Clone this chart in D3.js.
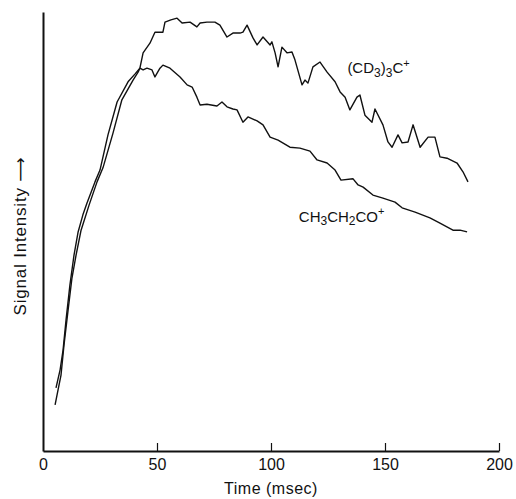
<!DOCTYPE html>
<html lang="en">
<head>
  <meta charset="UTF-8">
  <title>Signal intensity vs time</title>
  <script src="https://d3js.org/d3.v7.min.js"></script>
  <style>
    body { margin: 0; background: #fff; }
    svg { display: block; }
    text { font-family: "Liberation Sans", Arial, sans-serif; fill: #111; }
  </style>
</head>
<body>
  <div id="chart"></div>

  <script>
    // x tick labels (msec)
    const xTicks = [0, 50, 100, 150, 200];

    // (CD3)3C+  [time msec, relative intensity]
    const cd3Series = [
      [5.7, 14.4], [7.5, 18.5], [8.8, 23.0], [10.1, 29.8], [11.8, 37.8], [13.6, 44.6],
      [15.4, 49.9], [17.5, 53.8], [19.3, 56.5], [22.8, 61.3], [25.0, 64.0], [28.5, 72.0],
      [32.5, 79.5], [37.3, 84.1], [40.4, 85.9], [42.5, 87.2], [43.9, 90.7], [46.9, 92.9],
      [49.1, 95.4], [52.6, 95.4], [53.5, 97.7], [56.1, 98.2], [58.8, 98.6], [61.0, 97.5],
      [64.5, 97.7], [67.5, 96.6], [68.9, 97.5], [71.9, 97.7], [75.4, 97.7], [77.6, 97.0],
      [80.7, 94.3], [83.3, 95.2], [86.4, 95.2], [87.7, 95.4], [89.5, 97.0], [92.1, 94.1],
      [93.9, 92.5], [96.5, 94.3], [99.6, 92.5], [100.4, 93.2], [101.8, 90.7], [103.1, 87.5],
      [104.8, 92.0], [107.0, 90.7], [109.2, 90.9], [110.5, 89.1], [113.6, 83.4], [114.9, 84.5],
      [116.2, 83.8], [118.4, 87.5], [121.5, 88.6], [124.6, 86.3], [128.1, 84.1], [130.3, 81.8],
      [132.5, 80.6], [134.6, 77.7], [137.7, 80.6], [139.0, 81.1], [141.2, 76.5], [144.3, 74.9],
      [145.6, 77.9], [149.1, 74.3], [151.3, 70.4], [153.1, 69.2], [155.7, 72.0], [157.5, 70.2],
      [160.1, 70.4], [162.3, 74.3], [165.4, 69.2], [168.9, 71.5], [171.9, 71.5], [174.1, 67.0],
      [177.2, 66.7], [181.6, 65.6], [184.2, 63.6], [186.4, 61.3]
    ];

    // CH3CH2CO+
    const ch3Series = [
      [5.3, 10.5], [6.6, 13.9], [7.9, 17.3], [9.2, 24.1], [11.0, 32.1], [12.7, 39.4],
      [14.5, 44.6], [16.7, 50.3], [20.2, 56.0], [23.7, 61.3], [26.3, 64.5], [30.7, 72.4],
      [34.6, 80.0], [39.5, 84.5], [41.7, 86.3], [42.5, 87.2], [43.9, 86.8], [45.6, 87.2],
      [47.8, 86.8], [49.1, 85.2], [51.3, 87.2], [52.6, 87.9], [55.7, 87.2], [60.1, 85.2],
      [63.2, 83.4], [65.4, 82.9], [67.5, 80.6], [68.9, 78.8], [71.9, 79.0], [76.3, 78.6],
      [78.5, 79.5], [80.7, 78.4], [83.3, 77.9], [85.1, 77.7], [87.7, 74.9], [89.9, 76.1],
      [93.9, 75.2], [96.5, 74.3], [99.6, 71.5], [103.1, 70.8], [108.3, 69.2], [112.7, 69.0],
      [117.1, 68.3], [120.2, 66.3], [124.6, 65.6], [128.1, 64.0], [130.7, 61.7], [136.0, 62.0],
      [138.2, 60.6], [140.4, 60.1], [144.7, 58.3], [149.1, 57.6], [154.4, 56.7], [157.5, 55.4],
      [163.2, 54.4], [169.7, 53.1], [174.1, 51.9], [179.8, 50.3], [182.9, 50.3], [186.0, 49.9]
    ];

    const width = 516, height = 499;
    const margin = { top: 12, right: 17, bottom: 48, left: 43 };

    const svg = d3.select("#chart").append("svg")
      .attr("width", width)
      .attr("height", height);

    const x = d3.scaleLinear().domain([0, 200]).range([margin.left, width - margin.right]);
    const y = d3.scaleLinear().domain([0, 100]).range([height - margin.bottom, margin.top]);

    // x axis, ticks point up into the plot
    const xAxis = svg.append("g")
      .attr("transform", `translate(0, ${height - margin.bottom})`)
      .call(d3.axisBottom(x).tickValues(xTicks).tickSizeInner(-8).tickSizeOuter(0).tickPadding(8));
    xAxis.select(".domain").attr("stroke-width", 2.2).attr("stroke", "#111");
    xAxis.selectAll(".tick line").attr("stroke", "#111").attr("stroke-width", 1.2)
      .filter(d => d === 0).remove();
    xAxis.selectAll(".tick text")
      .style("font-size", "16px")
      .style("font-family", "'Liberation Sans', Arial, sans-serif")
      .attr("fill", "#111");

    // y axis: just the line
    const yAxis = svg.append("g")
      .attr("transform", `translate(${margin.left}, 0)`)
      .call(d3.axisLeft(y).tickValues([]).tickSizeOuter(0));
    yAxis.select(".domain").attr("stroke-width", 2).attr("stroke", "#111");

    // curves
    const line = d3.line()
      .x(d => x(d[0]))
      .y(d => y(d[1]));

    [cd3Series, ch3Series].forEach(s => {
      svg.append("path")
        .datum(s)
        .attr("fill", "none")
        .attr("stroke", "#111")
        .attr("stroke-width", 1.4)
        .attr("stroke-linejoin", "round")
        .attr("d", line);
    });

    // series labels
    const lab1 = svg.append("text")
      .attr("x", x(133.5)).attr("y", 73)
      .style("font-size", "15px");
    lab1.append("tspan").text("(CD");
    lab1.append("tspan").attr("dy", 4).style("font-size", "12px").text("3");
    lab1.append("tspan").attr("dy", -4).text(")");
    lab1.append("tspan").attr("dy", 4).style("font-size", "12px").text("3");
    lab1.append("tspan").attr("dy", -4).text("C");
    lab1.append("tspan").attr("dy", -6).style("font-size", "11px").text("+");

    const lab2 = svg.append("text")
      .attr("x", x(112.2)).attr("y", 222)
      .style("font-size", "15px");
    lab2.append("tspan").text("CH");
    lab2.append("tspan").attr("dy", 3).style("font-size", "12px").text("3");
    lab2.append("tspan").attr("dy", -3).text("CH");
    lab2.append("tspan").attr("dy", 3).style("font-size", "12px").text("2");
    lab2.append("tspan").attr("dy", -3).text("CO");
    lab2.append("tspan").attr("dy", -7).style("font-size", "11px").text("+");

    // axis titles
    svg.append("text")
      .attr("x", (x(0) + x(200)) / 2).attr("y", 494)
      .attr("text-anchor", "middle")
      .style("font-size", "16px")
      .style("letter-spacing", "0.5px")
      .text("Time (msec)");

    const yTitle = svg.append("text")
      .attr("transform", "translate(26, 236) rotate(-90)")
      .attr("text-anchor", "middle")
      .style("font-size", "17px")
      .style("letter-spacing", "0.8px");
    yTitle.append("tspan").text("Signal Intensity ");
    yTitle.append("tspan").style("font-family", "'DejaVu Sans', sans-serif").text("\u27F6");
  </script>
</body>
</html>
